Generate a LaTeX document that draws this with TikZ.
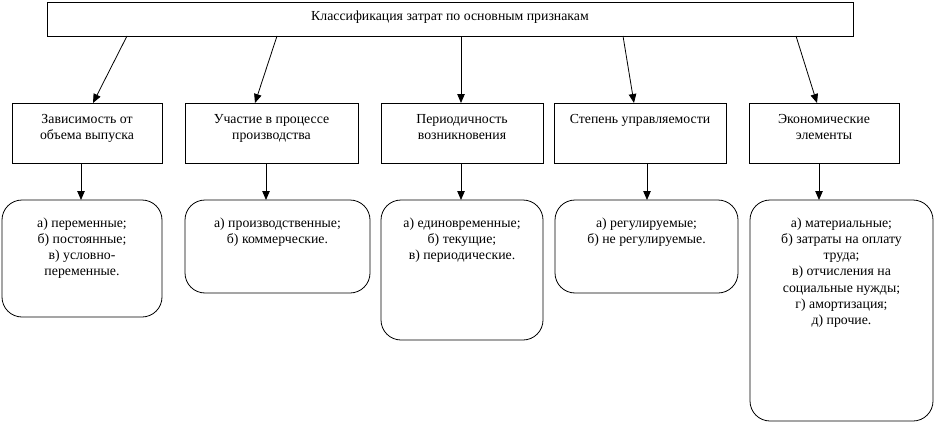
\documentclass[tikz,border=0pt]{standalone}
\usepackage{fontspec}
\setmainfont{Liberation Serif}
\usetikzlibrary{arrows.meta,calc}
\begin{document}
\begin{tikzpicture}[x=1pt,y=-1pt,
  box/.style={draw,line width=0.8pt,inner sep=0pt,outer sep=0pt},
  rbox/.style={box,rounded corners=20pt},
  txt/.style={inner sep=0pt,anchor=north,align=center,font=\fontsize{13.8}{16.2}\selectfont},
  arr/.style={line width=0.8pt,-{Triangle[length=9pt,width=7.5pt]}}]
\useasboundingbox (0,0) rectangle (935,423);
% top
\node[box,minimum width=806pt,minimum height=34pt] (top) at (450,19) {};
\node[txt] (toptxt) at (450,10.3) {Классификация затрат по основным признакам};
% middle boxes
\node[box,minimum width=150pt,minimum height=60pt] (m1) at (87,133) {};
\node[box,minimum width=173pt,minimum height=60pt] (m2) at (271.5,133) {};
\node[box,minimum width=162pt,minimum height=60pt] (m3) at (462,133) {};
\node[box,minimum width=172pt,minimum height=60pt] (m4) at (640,133) {};
\node[box,minimum width=150pt,minimum height=60pt] (m5) at (824,133) {};
\node[txt] (m1t) at ($(m1.north)+(0,11.2)$) {Зависимость от\\объема выпуска};
\node[txt] (m2t) at ($(m2.north)+(0,11.2)$) {Участие в процессе\\производства};
\node[txt] (m3t) at ($(m3.north)+(0,11.2)$) {Периодичность\\возникновения};
\node[txt] (m4t) at ($(m4.north)+(0,11.2)$) {Степень управляемости};
\node[txt] (m5t) at ($(m5.north)+(0,11.2)$) {Экономические\\элементы};
% bottom boxes
\node[rbox,minimum width=160pt,minimum height=117pt] (b1) at (82,258.5) {};
\node[rbox,minimum width=185pt,minimum height=93pt] (b2) at (277.5,246.5) {};
\node[rbox,minimum width=162pt,minimum height=140pt] (b3) at (462,270) {};
\node[rbox,minimum width=183pt,minimum height=93pt] (b4) at (646.5,246.5) {};
\node[rbox,minimum width=183pt,minimum height=221pt] (b5) at (841.5,310.5) {};
\node[txt] (b1t) at ($(b1.north)+(0,17.5)$) {а) переменные;\\б) постоянные;\\в) условно-\\переменные.};
\node[txt] (b2t) at ($(b2.north)+(0,17.5)$) {а) производственные;\\б) коммерческие.};
\node[txt] (b3t) at ($(b3.north)+(0,17.5)$) {а) единовременные;\\б) текущие;\\в) периодические.};
\node[txt] (b4t) at ($(b4.north)+(0,17.5)$) {а) регулируемые;\\б) не регулируемые.};
\node[txt] (b5t) at ($(b5.north)+(0,17.5)$) {а) материальные;\\б) затраты на оплату\\труда;\\в) отчисления на\\социальные нужды;\\г) амортизация;\\д) прочие.};
% arrows top -> middle
\draw[arr] (top.south -| 127,0) -- (m1.north -| 93,0);
\draw[arr] (top.south -| 277,0) -- (m2.north -| 255,0);
\draw[arr] (top.south -| 461,0) -- (m3.north -| 461,0);
\draw[arr] (top.south -| 623,0) -- (m4.north -| 634,0);
\draw[arr] (top.south -| 796,0) -- (m5.north -| 817,0);
% arrows middle -> bottom
\draw[arr] (m1.south -| 81,0) -- (b1.north -| 81,0);
\draw[arr] (m2.south -| 266,0) -- (b2.north -| 266,0);
\draw[arr] (m3.south -| 461,0) -- (b3.north -| 461,0);
\draw[arr] (m4.south -| 647,0) -- (b4.north -| 647,0);
\draw[arr] (m5.south -| 819,0) -- (b5.north -| 819,0);
\end{tikzpicture}
\end{document}
